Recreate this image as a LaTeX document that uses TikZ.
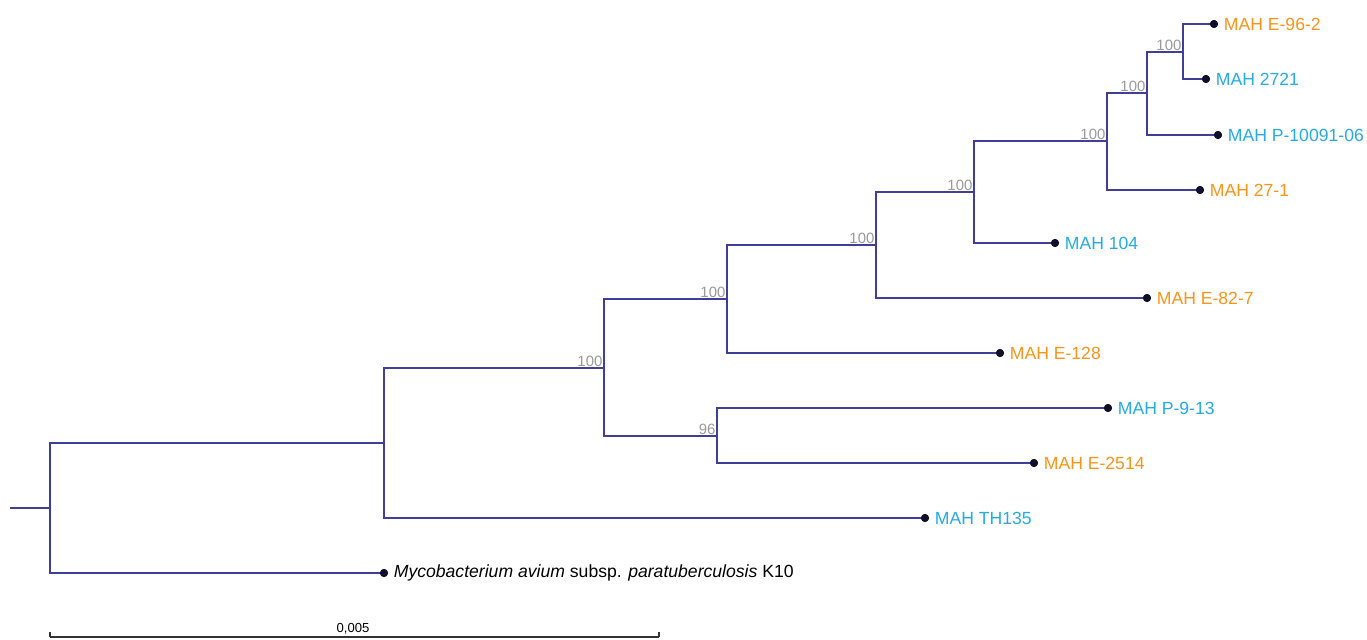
\documentclass[tikz,border=0pt]{standalone}
\usepackage{fontspec}
\setmainfont{Liberation Sans}
\definecolor{branch}{HTML}{3F3F9A}
\definecolor{orangelab}{HTML}{F7941D}
\definecolor{bluelab}{HTML}{27AAE1}
\definecolor{bootgray}{HTML}{9A9A9A}
\definecolor{dotc}{HTML}{10102A}
\definecolor{scalec}{HTML}{333333}
\begin{document}
\begin{tikzpicture}[x=0.75pt,y=-0.75pt,
  br/.style={draw=branch,line width=1pt},
  tipdot/.style={circle,fill=dotc,inner sep=0pt,minimum size=6pt},
  boot/.style={anchor=south east,text=bootgray,font=\fontsize{11.2}{13}\selectfont,inner sep=1pt},
  tiplab/.style={anchor=west,font=\fontsize{13.2}{15}\selectfont,inner sep=0pt,xshift=4pt},
  orng/.style={tiplab,text=orangelab},
  blu/.style={tiplab,text=bluelab}]
\useasboundingbox (0,0) rectangle (1367,639);
% internal nodes
\coordinate (stem) at (10,508);
\coordinate (R) at (50,508);
\coordinate (A) at (384,443);
\coordinate (B) at (604,368);
\coordinate (C) at (727,299);
\coordinate (D) at (717,436);
\coordinate (E) at (876,245);
\coordinate (F) at (974,192);
\coordinate (G) at (1107,141);
\coordinate (H) at (1147,93);
\coordinate (I) at (1183,52);
% tips
\node[tipdot] (t1) at (1214,24) {};
\node[tipdot] (t2) at (1206,79) {};
\node[tipdot] (t3) at (1218,135) {};
\node[tipdot] (t4) at (1200,190) {};
\node[tipdot] (t5) at (1055,243) {};
\node[tipdot] (t6) at (1147,298) {};
\node[tipdot] (t7) at (1000,353) {};
\node[tipdot] (t8) at (1108,408) {};
\node[tipdot] (t9) at (1034,463) {};
\node[tipdot] (t10) at (925,518) {};
\node[tipdot] (t11) at (384,573) {};
% branches
\draw[br] (stem) -- (R);
\draw[br] (R) |- (A);
\draw[br] (R) |- (t11);
\draw[br] (A) |- (B);
\draw[br] (A) |- (t10);
\draw[br] (B) |- (C);
\draw[br] (B) |- (D);
\draw[br] (D) |- (t8);
\draw[br] (D) |- (t9);
\draw[br] (C) |- (E);
\draw[br] (C) |- (t7);
\draw[br] (E) |- (F);
\draw[br] (E) |- (t6);
\draw[br] (F) |- (G);
\draw[br] (F) |- (t5);
\draw[br] (G) |- (H);
\draw[br] (G) |- (t4);
\draw[br] (H) |- (I);
\draw[br] (H) |- (t3);
\draw[br] (I) |- (t1);
\draw[br] (I) |- (t2);
% redraw dots on top
\foreach \t in {t1,t2,t3,t4,t5,t6,t7,t8,t9,t10,t11} \fill[dotc] (\t) circle (3pt);
% bootstrap values
\node[boot] (bI) at (I) {100};
\node[boot] (bH) at (H) {100};
\node[boot] (bG) at (G) {100};
\node[boot] (bF) at (F) {100};
\node[boot] (bE) at (E) {100};
\node[boot] (bC) at (C) {100};
\node[boot] (bB) at (B) {100};
\node[boot] (bD) at (D) {96};
% tip labels
\node[orng] (l1) at (t1.east) {MAH E-96-2};
\node[blu] (l2) at (t2.east) {MAH 2721};
\node[blu] (l3) at (t3.east) {MAH P-10091-06};
\node[orng] (l4) at (t4.east) {MAH 27-1};
\node[blu] (l5) at (t5.east) {MAH 104};
\node[orng] (l6) at (t6.east) {MAH E-82-7};
\node[orng] (l7) at (t7.east) {MAH E-128};
\node[blu] (l8) at (t8.east) {MAH P-9-13};
\node[orng] (l9) at (t9.east) {MAH E-2514};
\node[blu] (l10) at (t10.east) {MAH TH135};
\node[tiplab,text=black] (l11) at (t11.east) {\textit{Mycobacterium avium} subsp. \textit{paratuberculosis} K10};
% scale bar
\coordinate (s0) at (50,637);
\coordinate (s1) at (659,637);
\draw[scalec,line width=0.8pt] (s0) -- (s1);
\draw[scalec,line width=0.8pt] (s0) -- ++(0,-5);
\draw[scalec,line width=0.8pt] (s1) -- ++(0,-5);
\node[anchor=south,inner sep=0pt,font=\fontsize{9.8}{11}\selectfont] (sl) at (353,634) {0,005};
\end{tikzpicture}
\end{document}
